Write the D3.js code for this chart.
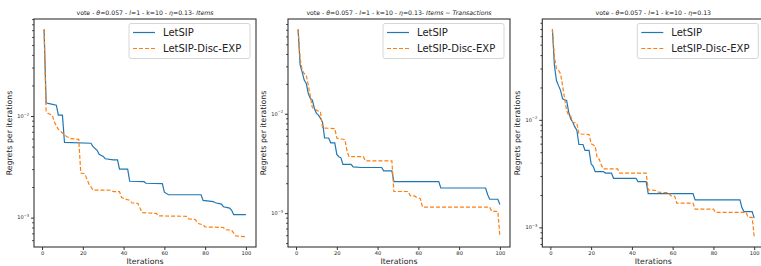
<!DOCTYPE html>
<meta charset="utf-8">
<style>
body { margin: 0; background: #fff; }
svg text { font-family: "DejaVu Sans", sans-serif; fill: #222; }
</style>
<body>
<svg id="chart" width="761" height="266"></svg>
<script src="https://d3js.org/d3.v7.min.js"></script>
<script>
// series values as [iteration, regret] breakpoints
var letsipItems = [[1,0.0713],[2,0.0135],[3,0.0133],[7,0.0128],[8,0.0102],[10,0.0102],[11,0.0055],[24,0.0054],[25,0.0050],[27,0.0046],[28,0.0042],[30,0.0040],[31,0.0038],[35,0.0037],[37,0.0037],[38,0.0030],[42,0.0030],[43,0.00228],[50,0.00226],[51,0.00218],[59,0.00216],[60,0.00178],[62,0.00168],[78,0.00168],[79,0.00148],[84,0.00144],[85,0.00140],[88,0.00136],[89,0.00128],[92,0.00124],[93,0.00118],[94,0.00107],[100,0.00107]];
var discItems = [[1,0.0713],[2,0.0112],[3,0.0106],[5,0.0102],[6,0.0088],[7,0.0080],[8,0.0074],[10,0.0068],[12,0.0063],[14,0.0060],[18,0.0059],[19,0.00275],[21,0.00270],[22,0.00240],[23,0.00215],[25,0.00187],[34,0.00186],[35,0.00180],[38,0.00180],[39,0.00158],[41,0.00152],[43,0.00148],[44,0.00140],[47,0.00138],[48,0.00125],[49,0.00112],[56,0.00110],[57,0.00104],[71,0.00103],[72,0.00097],[75,0.00096],[77,0.00087],[79,0.00085],[80,0.00081],[89,0.00080],[90,0.00076],[93,0.00075],[95,0.00066],[100,0.00065]];

var letsipItemsTrans = [[1,0.0707],[2,0.0310],[3,0.0263],[4,0.0218],[5,0.0202],[6,0.0160],[7,0.0143],[8,0.0137],[9,0.0113],[10,0.0101],[11,0.0097],[12,0.0090],[13,0.0082],[14,0.0057],[16,0.0057],[17,0.0051],[19,0.0051],[20,0.0039],[21,0.0037],[22,0.0036],[23,0.0031],[27,0.0031],[28,0.00292],[32,0.00288],[42,0.00288],[43,0.00266],[47,0.00266],[48,0.00208],[70,0.00208],[71,0.00179],[93,0.00179],[94,0.00153],[95,0.00138],[99,0.00138],[100,0.00122]];
var discItemsTrans = [[1,0.0707],[2,0.0359],[3,0.0275],[4,0.0254],[5,0.0245],[6,0.0194],[7,0.0150],[8,0.0115],[10,0.0109],[11,0.0106],[12,0.0104],[13,0.0072],[19,0.0071],[20,0.0057],[21,0.0056],[24,0.0055],[25,0.0042],[26,0.0037],[33,0.0037],[34,0.00335],[47,0.00335],[48,0.00165],[55,0.00165],[56,0.00150],[58,0.00149],[59,0.00145],[61,0.00140],[62,0.00115],[95,0.00115],[96,0.00104],[99,0.00104],[100,0.00058]];

var letsipAll = [[1,0.0694],[2,0.0320],[3,0.0232],[4,0.0208],[5,0.0188],[6,0.0157],[8,0.0151],[9,0.0118],[10,0.0102],[11,0.0095],[12,0.0086],[13,0.0080],[14,0.0059],[16,0.0059],[17,0.0052],[19,0.0052],[20,0.0039],[21,0.0037],[22,0.0033],[26,0.0033],[27,0.0032],[30,0.0032],[31,0.00286],[42,0.00286],[43,0.00266],[47,0.00266],[48,0.00206],[70,0.00206],[71,0.00180],[93,0.00180],[94,0.00152],[95,0.00140],[99,0.00140],[100,0.00122]];
var discAll = [[1,0.0694],[2,0.0383],[3,0.0300],[4,0.0290],[5,0.0268],[6,0.0208],[7,0.0157],[8,0.0122],[9,0.0110],[10,0.0108],[11,0.0095],[13,0.0093],[14,0.0074],[19,0.0073],[20,0.0060],[22,0.0057],[23,0.0044],[24,0.0043],[25,0.0038],[26,0.0035],[33,0.0035],[34,0.0032],[47,0.0032],[48,0.00223],[52,0.00220],[53,0.00212],[58,0.00210],[59,0.00197],[61,0.00195],[62,0.00168],[70,0.00168],[71,0.00148],[80,0.00148],[81,0.00138],[96,0.00138],[97,0.00124],[99,0.00124],[100,0.00082]];

var seriesNames = ["LetSIP", "LetSIP-Disc-EXP"];
var seriesColors = ["#1f77b4", "#ff7f0e"];
var xTicks = [0, 20, 40, 60, 80, 100];
var titleSuffixes = ["Items", "Items \u2212 Transactions", ""];

var panels = [
  {left: 34, data: [letsipItems, discItems], suffix: titleSuffixes[0]},
  {left: 288, data: [letsipItemsTrans, discItemsTrans], suffix: titleSuffixes[1]},
  {left: 542.3, data: [letsipAll, discAll], suffix: titleSuffixes[2]}
];

var plotW = 222, plotTop = 19, plotBottom = 247;
var svg = d3.select("#chart");

panels.forEach(function(p) {
  var g = svg.append("g").attr("transform", "translate(" + p.left + ",0)");

  // matplotlib-like 5% margins
  var x = d3.scaleLinear().domain([1 - 4.95, 100 + 4.95]).range([0, plotW]);
  var all = p.data[0].concat(p.data[1]).map(function(d) { return Math.log10(d[1]); });
  var lo = d3.min(all), hi = d3.max(all), m = (hi - lo) * 0.05;
  var y = d3.scaleLog().domain([Math.pow(10, lo - m), Math.pow(10, hi + m)]).range([plotBottom, plotTop]);

  var clipId = "clip" + Math.round(p.left);
  g.append("clipPath").attr("id", clipId).append("rect")
    .attr("x", 0).attr("y", plotTop).attr("width", plotW).attr("height", plotBottom - plotTop);

  var line = d3.line().x(function(d) { return x(d[0]); }).y(function(d) { return y(d[1]); });

  var lines = g.append("g").attr("clip-path", "url(#" + clipId + ")");
  lines.append("path").datum(p.data[0]).attr("d", line)
    .attr("fill", "none").attr("stroke", seriesColors[0]).attr("stroke-width", 1.2);
  lines.append("path").datum(p.data[1]).attr("d", line)
    .attr("fill", "none").attr("stroke", seriesColors[1]).attr("stroke-width", 1.2)
    .attr("stroke-dasharray", "4,2");

  // x axis
  var xa = g.append("g").attr("transform", "translate(0," + plotBottom + ")")
    .call(d3.axisBottom(x).tickValues(xTicks).tickSize(3).tickPadding(1.5));
  xa.select(".domain").remove();
  xa.selectAll("text").style("font-size", "5.2px").attr("fill", "#333");
  xa.selectAll("line").attr("stroke", "#333");

  // y axis: major + minor log ticks
  var dom = y.domain();
  var minor = [];
  for (var e = -4; e <= -1; e++) {
    for (var k = 2; k <= 9; k++) {
      var v = k * Math.pow(10, e);
      if (v >= dom[0] && v <= dom[1]) minor.push(v);
    }
  }
  var major = [0.001, 0.01].filter(function(v) { return v >= dom[0] && v <= dom[1]; });
  var ym = g.append("g").call(d3.axisLeft(y).tickValues(minor).tickSize(1.8).tickFormat(""));
  ym.select(".domain").remove();
  ym.selectAll("line").attr("stroke", "#333");
  var yM = g.append("g").call(d3.axisLeft(y).tickValues(major).tickSize(3).tickFormat(""));
  yM.select(".domain").remove();
  yM.selectAll("line").attr("stroke", "#333");
  major.forEach(function(v) {
    var t = g.append("text").attr("x", -5).attr("y", y(v) + 1.8)
      .attr("text-anchor", "end").style("font-size", "5px").attr("fill", "#333");
    t.append("tspan").text("10");
    t.append("tspan").attr("dy", -2.2).style("font-size", "3.6px")
      .text("\u2212" + Math.round(-Math.log10(v)));
  });

  // frame
  g.append("rect").attr("x", 0).attr("y", plotTop).attr("width", plotW).attr("height", plotBottom - plotTop)
    .attr("fill", "none").attr("stroke", "#333").attr("stroke-width", 1.1);

  // labels
  g.append("text").attr("x", plotW / 2).attr("y", 263.5).attr("text-anchor", "middle")
    .style("font-size", "7.8px").text("Iterations");
  g.append("text").attr("transform", "translate(-22.5," + ((plotTop + plotBottom) / 2) + ") rotate(-90)")
    .attr("text-anchor", "middle").style("font-size", "7.8px").text("Regrets per iterations");

  // title with italic math parts
  var tt = g.append("text").attr("x", plotW / 2).attr("y", 15).attr("text-anchor", "middle")
    .style("font-size", "6.2px");
  var parts = [["vote - ", 0], ["\u03b8", 1], ["=0.057 - ", 0], ["l", 1], ["=1 - k=10 - ", 0], ["\u03b7", 1], ["=0.13", 0]];
  if (p.suffix) { parts.push(["- ", 0]); parts.push([p.suffix, 1]); }
  parts.forEach(function(q) {
    tt.append("tspan").style("font-style", q[1] ? "italic" : "normal").text(q[0]);
  });

  // legend
  var bw = 121, bh = 35, bx = plotW - 6 - bw, by = 23.5;
  var lg = g.append("g").attr("transform", "translate(" + bx + "," + by + ")");
  lg.append("rect").attr("width", bw).attr("height", bh).attr("rx", 2)
    .attr("fill", "#fff").attr("fill-opacity", 0.8).attr("stroke", "#ccc").attr("stroke-width", 0.8);
  seriesNames.forEach(function(name, i) {
    var cy = 9 + i * 16;
    lg.append("line").attr("x1", 4).attr("x2", 26).attr("y1", cy).attr("y2", cy)
      .attr("stroke", seriesColors[i]).attr("stroke-width", 1.2)
      .attr("stroke-dasharray", i ? "4,2" : null);
    lg.append("text").attr("x", 34).attr("y", cy + 3.6).style("font-size", "10px").text(name);
  });
});
</script>
</body>
